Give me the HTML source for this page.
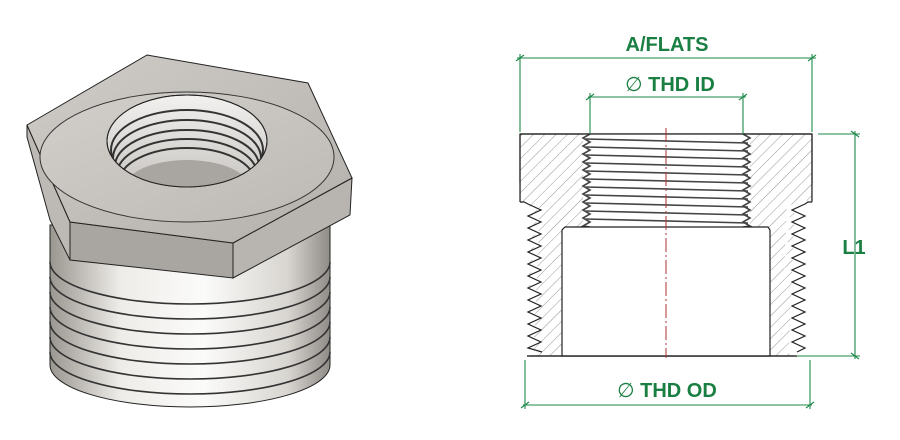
<!DOCTYPE html>
<html><head><meta charset="utf-8"><style>
html,body{margin:0;padding:0;background:#fff;}
svg{display:block;}
text{font-family:"Liberation Sans",sans-serif;font-weight:bold;fill:#1a7f42;}
</style></head><body>
<svg width="900" height="440" viewBox="0 0 900 440" xmlns="http://www.w3.org/2000/svg">
<defs>
<linearGradient id="cyl" x1="0" x2="1" y1="0" y2="0">
<stop offset="0" stop-color="#9a9690"/><stop offset="0.25" stop-color="#eeece8"/><stop offset="0.55" stop-color="#fbfbfa"/><stop offset="0.85" stop-color="#d8d5d0"/><stop offset="1" stop-color="#8f8b86"/>
</linearGradient>
<linearGradient id="face" x1="0" x2="1" y1="0" y2="1">
<stop offset="0" stop-color="#cfccc8"/><stop offset="1" stop-color="#b4b0ab"/>
</linearGradient>
<linearGradient id="ring" x1="0" x2="1" y1="0" y2="1">
<stop offset="0" stop-color="#d2cfcb"/><stop offset="1" stop-color="#bdb9b5"/>
</linearGradient>
<linearGradient id="hole" x1="0" x2="0" y1="0" y2="1">
<stop offset="0" stop-color="#f2f1ef"/><stop offset="1" stop-color="#c8c5c1"/>
</linearGradient>
<pattern id="hatch" width="8" height="8" patternUnits="userSpaceOnUse" patternTransform="rotate(45)">
<line x1="0" y1="0" x2="0" y2="8" stroke="#8a8a8a" stroke-width="0.9"/>
</pattern>
<clipPath id="holeclip"><ellipse cx="187" cy="141" rx="80" ry="46"/></clipPath>
</defs>

<!-- LEFT 3D bushing -->
<g stroke="#222" stroke-width="1">
<path d="M50,225 L50,365 A140,42 0 0 0 330,365 L330,225 Z" fill="url(#cyl)"/>
<g fill="none" stroke="#333" stroke-width="1.6">
<path d="M50,262 A140,42 0 0 0 330,262"/>
<path d="M50,277 A140,42 0 0 0 330,277"/>
<path d="M50,292 A140,42 0 0 0 330,292"/>
<path d="M50,307 A140,42 0 0 0 330,307"/>
<path d="M50,322 A140,42 0 0 0 330,322"/>
<path d="M50,337 A140,42 0 0 0 330,337"/>
<path d="M50,352 A140,42 0 0 0 330,352"/>
</g>
<path d="M27,125 L27,137 L50,220 L70,260 L70,222 Z" fill="#bdb9b4"/>
<path d="M70,222 L233,243 L233,278 L70,260 Z" fill="#a9a5a0"/>
<path d="M233,243 L352,178 L350,215 L233,278 Z" fill="#b8b4af"/>
<path d="M27,125 L147,55 L308,83 L352,178 L233,243 L70,222 Z" fill="url(#face)"/>
<ellipse cx="187" cy="157" rx="147" ry="65" fill="url(#ring)" stroke="#333"/>
<ellipse cx="187" cy="141" rx="80" ry="46" fill="url(#hole)"/>
<g clip-path="url(#holeclip)" fill="none" stroke="#333" stroke-width="2">
<ellipse cx="187" cy="150" rx="76" ry="40"/>
<ellipse cx="187" cy="158" rx="74" ry="38"/>
<ellipse cx="187" cy="166" rx="72" ry="36"/>
<ellipse cx="187" cy="174" rx="70" ry="35"/>
<ellipse cx="187" cy="182" rx="68" ry="34"/>
<ellipse cx="187" cy="190" rx="64" ry="30" fill="#a9a6a2" stroke="none"/>
</g>
<ellipse cx="187" cy="141" rx="80" ry="46" fill="none"/>
</g>

<!-- RIGHT drawing -->
<g stroke="#222" stroke-width="1.2">
<path d="M520,134 L812,134 L812,202 L797,356 L527,356 L520,202 Z" fill="url(#hatch)"/>
<path d="M583,134 L750,134 L750,227 L583,227 Z" fill="#fff" stroke="none"/>
<g fill="none" stroke="#444" stroke-width="1.6">
<path d="M586,139 L748,143 M586,147 L748,151 M586,155 L748,159 M586,163 L748,167 M586,171 L748,175 M586,179 L748,183 M586,187 L748,191 M586,195 L748,199 M586,203 L748,207 M586,211 L748,215 M586,219 L748,223"/>
<path d="M590,134 l-7,4 l7,4 l-7,4 l7,4 l-7,4 l7,4 l-7,4 l7,4 l-7,4 l7,4 l-7,4 l7,4 l-7,4 l7,4 l-7,4 l7,4 l-7,4 l7,4 l-7,4 l7,4 l-7,4 l7,4 l-7,4 l7,1"/>
<path d="M743,134 l7,4 l-7,4 l7,4 l-7,4 l7,4 l-7,4 l7,4 l-7,4 l7,4 l-7,4 l7,4 l-7,4 l7,4 l-7,4 l7,4 l-7,4 l7,4 l-7,4 l7,4 l-7,4 l7,4 l-7,4 l7,4 l-7,1"/>
</g>
<path d="M562,356 L562,230 L565,227 L768,227 L770,230 L770,356 Z" fill="#fff"/>
<!-- outer threads -->
<path d="M520,202 L520,183 L500,183 L500,360 L527,360 L527,356 l14,-4 l-13,-6 l13,-6 l-13,-6 l13,-6 l-13,-6 l13,-6 l-13,-6 l13,-6 l-13,-6 l13,-6 l-13,-6 l13,-6 l-13,-6 l13,-6 l-13,-6 l13,-6 l-13,-6 l13,-6 l-13,-6 l13,-6 l-13,-6 l13,-6 l-13,-6 l13,-6 l-16,-2 Z" fill="#fff" stroke="none"/>
<path d="M520,202 l4,0 l4,2 l13,6 l-13,6 l13,6 l-13,6 l13,6 l-13,6 l13,6 l-13,6 l13,6 l-13,6 l13,6 l-13,6 l13,6 l-13,6 l13,6 l-13,6 l13,6 l-13,6 l13,6 l-13,6 l13,6 l-13,6 l13,6 l-13,6 l14,4" fill="none" stroke="#222"/>
<path d="M812,202 L812,183 L835,183 L835,360 L797,360 L797,356 l-13,-4 l13,-6 l-13,-6 l13,-6 l-13,-6 l13,-6 l-13,-6 l13,-6 l-13,-6 l13,-6 l-13,-6 l13,-6 l-13,-6 l13,-6 l-13,-6 l13,-6 l-13,-6 l13,-6 l-13,-6 l13,-6 l-13,-6 l13,-6 l-13,-6 l13,-6 l-13,-6 l13,-6 l15,-2 Z" fill="#fff" stroke="none"/>
<path d="M812,202 l-4,0 l-3,2 l-13,6 l13,6 l-13,6 l13,6 l-13,6 l13,6 l-13,6 l13,6 l-13,6 l13,6 l-13,6 l13,6 l-13,6 l13,6 l-13,6 l13,6 l-13,6 l13,6 l-13,6 l13,6 l-13,6 l13,6 l-13,6 l13,6 l-8,4" fill="none" stroke="#222"/>
<line x1="520" y1="134" x2="812" y2="134"/>
<line x1="520" y1="134" x2="520" y2="202"/>
<line x1="812" y1="134" x2="812" y2="202"/>
<line x1="527" y1="356" x2="797" y2="356"/>
</g>
<line x1="666" y1="128" x2="666" y2="358" stroke="#b03030" stroke-width="1" stroke-dasharray="14,3,2,3"/>

<!-- dimensions -->
<g stroke="#1e8a4a" stroke-width="1.1" fill="none">
<line x1="517" y1="58" x2="816" y2="58"/>
<line x1="520" y1="54" x2="520" y2="132"/>
<line x1="812" y1="54" x2="812" y2="132"/>
<path d="M516,61 l8,-6 M808,61 l8,-6"/>
<line x1="588" y1="97" x2="746" y2="97"/>
<line x1="590" y1="93" x2="590" y2="134"/>
<line x1="743" y1="93" x2="743" y2="134"/>
<path d="M586,100 l8,-6 M739,100 l8,-6"/>
<line x1="818" y1="134" x2="860" y2="134"/>
<line x1="797" y1="356" x2="860" y2="356"/>
<line x1="855" y1="131" x2="855" y2="359"/>
<path d="M851,131 l8,6 M851,353 l8,6"/>
<line x1="523" y1="405" x2="812" y2="405"/>
<line x1="525" y1="360" x2="525" y2="409"/>
<line x1="810" y1="360" x2="810" y2="409"/>
<path d="M521,408 l8,-6 M806,408 l8,-6"/>
</g>
<text x="667" y="51" font-size="20" text-anchor="middle">A/FLATS</text>
<text x="670" y="91" font-size="20" text-anchor="middle"><tspan style="font-weight:normal">∅</tspan> THD ID</text>
<text x="854" y="254" font-size="20" text-anchor="middle">L1</text>
<text x="667" y="397" font-size="20" text-anchor="middle"><tspan style="font-weight:normal">∅</tspan> THD OD</text>
</svg>
</body></html>
